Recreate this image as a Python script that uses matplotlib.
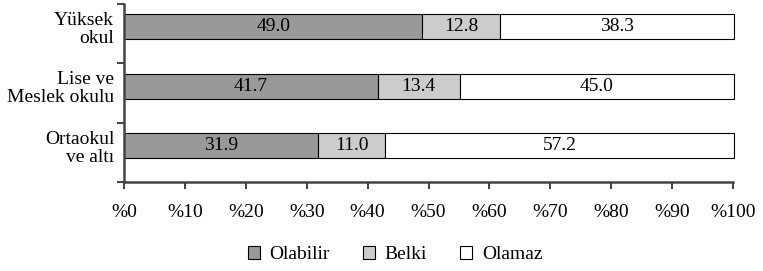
import matplotlib
matplotlib.use("Agg")
import matplotlib.pyplot as plt
from matplotlib.patches import Patch

categories = ["Ortaokul\nve altı", "Lise ve\nMeslek okulu", "Yüksek\nokul"]
olabilir = [31.9, 41.7, 49.0]
belki = [11.0, 13.4, 12.8]
olamaz = [57.2, 45.0, 38.3]
series_names = ["Olabilir", "Belki", "Olamaz"]
colors = ["#999999", "#cccccc", "#ffffff"]
xticks = list(range(0, 101, 10))
xticklabels = ["%" + str(v) for v in xticks]

plt.rcParams['font.family'] = ['Liberation Serif', 'DejaVu Serif']
FS = 14

fig = plt.figure(figsize=(7.63, 2.71), dpi=100)
ax = fig.add_axes([124/763, (271-182)/271, (733-124)/763, 178/271])

ypos = [i + 0.615 for i in range(len(categories))]
h = 25/59.3
left = [0]*len(categories)
for vals, col in zip([olabilir, belki, olamaz], colors):
    ax.barh(ypos, vals, left=left, height=h, color=col, edgecolor="black",
            linewidth=0.8, clip_on=False, zorder=3)
    for y, l, v in zip(ypos, left, vals):
        ax.text(l + v/2, y, f"{v:.1f}", ha="center", va="center", fontsize=FS, zorder=4)
    left = [a + b for a, b in zip(left, vals)]

ax.set_xlim(0, 100)
ax.set_ylim(0, 3)
ax.set_xticks(xticks)
ax.set_xticklabels(xticklabels, fontsize=FS)
ax.set_yticks(ypos)
ax.set_yticklabels(categories, fontsize=FS, linespacing=1.1)
ax.set_yticks([0, 1, 2, 3], minor=True)
ax.tick_params(axis="y", which="major", length=0, pad=7)
ax.tick_params(axis="y", which="minor", length=5, width=1.3, color="#333333")
ax.tick_params(axis="x", length=5, width=1.3, color="#333333", pad=11)
for s in ["top", "right"]:
    ax.spines[s].set_visible(False)
for s in ["left", "bottom"]:
    ax.spines[s].set_color("#444444")
    ax.spines[s].set_linewidth(1.8)
    ax.spines[s].set_zorder(5)

handles = [Patch(facecolor=c, edgecolor="black", linewidth=0.8) for c in colors]
fig.legend(handles, series_names, loc="center", bbox_to_anchor=(0.518, 0.06), ncol=3,
           frameon=False, fontsize=FS, handlelength=0.62, handleheight=0.62,
           handletextpad=0.5, columnspacing=1.7)

fig.savefig("out.png", dpi=100)
